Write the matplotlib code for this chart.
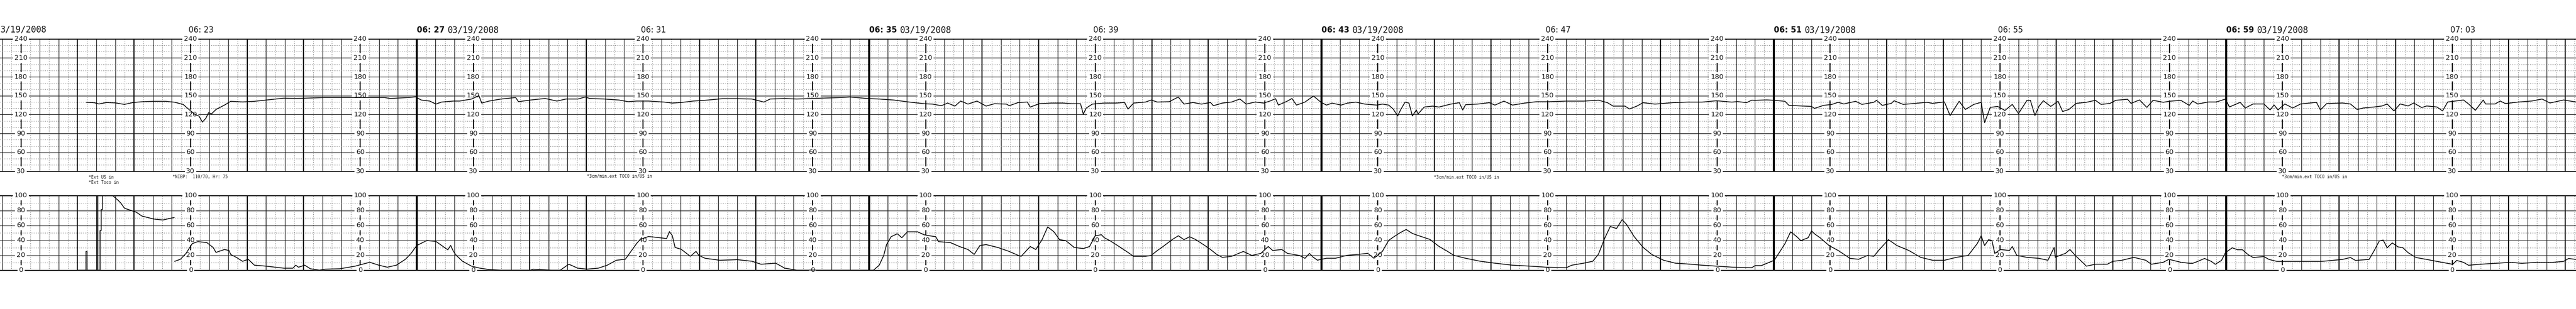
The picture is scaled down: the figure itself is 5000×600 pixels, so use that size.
import numpy as np
import matplotlib
matplotlib.use("Agg")
import matplotlib.pyplot as plt

# ---------------- data (time = minutes after 06:00) ----------------
VIEW_START = 19.63
VIEW_END = 65.19
PAGE_STARTS = [19, 27, 35, 43, 51, 59]
PAGE_TIME_LABELS = ["06: 19", "06: 27", "06: 35", "06: 43", "06: 51", "06: 59"]
MID_TIMES = [23, 31, 39, 47, 55, 63]
MID_TIME_LABELS = ["06: 23", "06: 31", "06: 39", "06: 47", "06: 55", "07: 03"]
DATE_LABEL = "03/19/2008"
EDGE_DATE_LABEL = "3/19/2008"   # the part of the first page's date visible at the left edge
SCALE_COLUMNS = [20, 23, 26, 28, 31, 34, 36, 39, 42, 44, 47, 50, 52, 55, 58, 60, 63]
FHR_TICKS = [240, 210, 180, 150, 120, 90, 60, 30]
TOCO_TICKS = [100, 80, 60, 40, 20, 0]

ANNOT_TIMES = [21.20, 21.20, 22.68, 30.01, 44.99, 59.99]
ANNOT_TEXTS = ["*Ext US in", "*Ext Toco in", "*NIBP:  110/70, Hr: 75",
               "*3cm/min.ext TOCO in/US in", "*3cm/min.ext TOCO in/US in",
               "*3cm/min.ext TOCO in/US in"]

FHR = np.array([
    (21.16, 139.4), (21.30, 138.7), (21.38, 136.8), (21.51, 139), (21.67, 138.5), (21.83, 136.1),
    (21.98, 139), (22.14, 140.3), (22.35, 141), (22.56, 141), (22.72, 139.5), (22.87, 136),
    (22.95, 129.7), (23.08, 120), (23.15, 117.5), (23.21, 108), (23.27, 114), (23.32, 123),
    (23.37, 121), (23.45, 128), (23.61, 135.5), (23.71, 141), (23.92, 140), (24.13, 141),
    (24.34, 143), (24.65, 146), (24.86, 145.5), (25.38, 147), (25.91, 147), (26.43, 147),
    (26.53, 145.5), (26.85, 147), (26.98, 148),
    (27.08, 143), (27.23, 141.4), (27.34, 136.6), (27.44, 139.8), (27.65, 141.4), (27.76, 141.4),
    (27.97, 144.6), (28.10, 150), (28.15, 138.2), (28.28, 141.4), (28.49, 144.6), (28.75, 147),
    (28.80, 140.4), (29.01, 143), (29.27, 145.5), (29.48, 141.4), (29.64, 144.6), (29.85, 144.6),
    (29.98, 147.8), (30.06, 145.5), (30.32, 144.6), (30.58, 143), (30.74, 140.4), (30.89, 141.4),
    (31.10, 141.4), (31.37, 139.8), (31.52, 138.2), (31.68, 139.1), (31.89, 141.4), (32.15, 143),
    (32.41, 145.2), (32.67, 145.2), (32.93, 144.6), (33.14, 139.8), (33.25, 144.6), (33.51, 145.5),
    (33.72, 144.6), (33.98, 145.5), (34.24, 146.2), (34.45, 146.8), (34.66, 147.8), (34.87, 146.2),
    (34.97, 145.5),
    (35.18, 144.6), (35.44, 143), (35.71, 139.8), (35.97, 137.2), (36.12, 136.6), (36.28, 134),
    (36.39, 138.2), (36.52, 133.4), (36.62, 141.4), (36.75, 136.6), (36.91, 141.4), (37.07, 133.4),
    (37.22, 137.2), (37.43, 136.6), (37.48, 134), (37.64, 139.1), (37.80, 139.8), (37.85, 131.8),
    (38.01, 137.2), (38.22, 138.2), (38.43, 138.2), (38.58, 137.2), (38.74, 137.2), (38.79, 120.6),
    (38.84, 130.2), (38.95, 136.6), (39.16, 138.2), (39.37, 138.2), (39.52, 139.1), (39.58, 128.6),
    (39.68, 138.2), (39.89, 139.8), (39.99, 143), (40.10, 139.8), (40.31, 140.4), (40.47, 147.8),
    (40.57, 136.6), (40.73, 139.1), (40.88, 136.6), (41.04, 139.1), (41.09, 134), (41.25, 138.2),
    (41.41, 139.8), (41.56, 144.6), (41.67, 136.6), (41.83, 139.8), (41.98, 138.2), (42.09, 141.4),
    (42.19, 145.2), (42.24, 135), (42.40, 141.4), (42.48, 145.5), (42.56, 135), (42.71, 139.8),
    (42.86, 149.4),
    (42.99, 139.7), (43.09, 135), (43.19, 138.1), (43.35, 135), (43.46, 138.1), (43.61, 139.7),
    (43.77, 136.6), (43.98, 135), (44.08, 136.6), (44.19, 135), (44.27, 128.8), (44.35, 117.8),
    (44.40, 127.2), (44.48, 139.7), (44.55, 138.1), (44.61, 117.8), (44.68, 127.2), (44.71, 121),
    (44.82, 131.9), (44.97, 133.4), (45.08, 131.9), (45.29, 136.6), (45.44, 138.8), (45.50, 127.2),
    (45.55, 135.6), (45.76, 136.6), (45.97, 138.8), (46.07, 135), (46.23, 141.3), (46.38, 135),
    (46.59, 138.1), (46.80, 140.3), (47.01, 140.3), (47.33, 141.3), (47.64, 141.3), (47.90, 142.8),
    (48.06, 138.8), (48.16, 133.4), (48.37, 133.4), (48.45, 128.8), (48.58, 133.4), (48.69, 138.8),
    (48.90, 136.6), (49.21, 138.8), (49.47, 139.7), (49.73, 139.7), (49.99, 141.9), (50.26, 139.7),
    (50.36, 140.6), (50.52, 138.8), (50.61, 142.8),
    (50.67, 142.6), (50.88, 143.2), (51.01, 142.6), (51.20, 141), (51.27, 134.5), (51.51, 133.5),
    (51.67, 132.9), (51.72, 129.7), (51.88, 134.5), (52.03, 136.1), (52.14, 139.4), (52.24, 136.8),
    (52.45, 141), (52.56, 136.1), (52.77, 139.4), (52.82, 142.6), (52.92, 134.5), (53.08, 137.7),
    (53.13, 141.9), (53.29, 136.1), (53.50, 137.7), (53.71, 139.4), (53.81, 137.7), (54.02, 140),
    (54.12, 118.4), (54.28, 141), (54.39, 128), (54.54, 136.1), (54.67, 139.4), (54.73, 107.1),
    (54.83, 131.3), (54.96, 132.9), (55.09, 126.5), (55.22, 136.1), (55.33, 121.6), (55.48, 142.6),
    (55.54, 142.6), (55.62, 118.4), (55.69, 132.9), (55.77, 141.9), (55.90, 132.9), (56.03, 141),
    (56.11, 124.8), (56.22, 128), (56.35, 137.7), (56.53, 139.4), (56.69, 142.6), (56.79, 136.1),
    (56.95, 137.7), (57.05, 142.6), (57.26, 144.2), (57.32, 137.7), (57.47, 143.2), (57.60, 131.3),
    (57.71, 142.6), (57.89, 139.4), (57.99, 141), (58.20, 142.6), (58.35, 134.5),
    (58.41, 141.5), (58.50, 136.8), (58.69, 139.9), (58.83, 139.9), (58.99, 144.6), (59.06, 132),
    (59.25, 139.3), (59.34, 130.4), (59.48, 136.8), (59.67, 136.8), (59.78, 127.3), (59.85, 135.2),
    (59.92, 127.3), (60.04, 136.8), (60.18, 130.4), (60.32, 136.8), (60.60, 139.3), (60.67, 127.3),
    (60.78, 137.4), (61.06, 138.3), (61.20, 136.8), (61.32, 127.9), (61.43, 130.4), (61.62, 132),
    (61.76, 133.6), (61.85, 136.8), (61.97, 125.7), (62.08, 136.8), (62.22, 133.6), (62.32, 138.3),
    (62.46, 131.1), (62.55, 133.6), (62.73, 132), (62.83, 125.7), (62.92, 139.9), (63.06, 141.5),
    (63.20, 143.1), (63.29, 136.8), (63.41, 126.7), (63.55, 143.1), (63.59, 136.8), (63.76, 136.8),
    (63.85, 141.5), (63.94, 137.4), (64.18, 139.9), (64.41, 141.5), (64.59, 144.6), (64.73, 138.3),
    (64.97, 143.1), (65.19, 139.9),
])

TOCO = np.array([
    (21.00, 0), (21.15, 0), (21.15, 25), (21.17, 25), (21.17, 0), (21.34, 0), (21.34, 105),
    (21.36, 105), (21.36, 0), (21.40, 0), (21.40, 53), (21.42, 53), (21.42, 81), (21.44, 81),
    (21.44, 105), (21.60, 105), (21.62, 100), (21.72, 93.4), (21.77, 89.5), (21.83, 83),
    (21.88, 81.6), (22.04, 77.6), (22.14, 72.4), (22.35, 68.4), (22.51, 67.1), (22.66, 69.7),
    (22.71, 70.3), (22.715, np.nan),
    (22.72, 11.8), (22.82, 14.5), (22.92, 22.4), (23.03, 35.5), (23.13, 38.2), (23.29, 36.8),
    (23.40, 30.3), (23.45, 23.7), (23.60, 27.6), (23.68, 26.3), (23.71, 21), (23.81, 17.1),
    (23.92, 11.8), (24.02, 14.5), (24.13, 6.6), (24.34, 5.3), (24.65, 2.6), (24.81, 2.6),
    (24.86, 6.6), (24.91, 3.9), (25.02, 6.6), (25.12, 1.8), (25.28, 0), (25.38, 1.3),
    (25.64, 1.8), (25.91, 5.3), (26.17, 10.5), (26.33, 6.6), (26.48, 3.9), (26.64, 6.6),
    (26.80, 14.5), (26.90, 22.4), (27.00, 32.9),
    (27.18, 39.7), (27.34, 38.4), (27.44, 33.1), (27.55, 27.2), (27.60, 33.1), (27.65, 25.1),
    (27.70, 19.8), (27.81, 11.9), (27.97, 5.3), (28.12, 2.6), (28.28, 0.8), (28.49, 0),
    (29.01, 0), (29.06, 1.3), (29.38, 0), (29.54, 0), (29.69, 7.9), (29.85, 2.6), (30.01, 1.3),
    (30.21, 2.6), (30.37, 6.6), (30.53, 13.2), (30.69, 14.6), (30.79, 25.1), (30.89, 35.7),
    (30.95, 41), (31.10, 45), (31.26, 43.7), (31.42, 42.3), (31.47, 51.6), (31.52, 46.3),
    (31.57, 30.4), (31.68, 27.8), (31.84, 18.5), (31.94, 25.1), (31.99, 19.8), (32.10, 15.9),
    (32.36, 13.2), (32.67, 14), (32.93, 11.9), (33.09, 7.9), (33.35, 9.3), (33.51, 2.6),
    (33.72, 0), (34.24, 0), (35.00, 0),
    (35.08, 0), (35.18, 6.6), (35.26, 19.7), (35.31, 34.2), (35.39, 44.7), (35.50, 48.7),
    (35.58, 43.4), (35.68, 51.3), (35.86, 51.3), (35.97, 47.4), (36.07, 46), (36.18, 44.7),
    (36.23, 38.2), (36.44, 36.8), (36.60, 31.6), (36.75, 27.6), (36.86, 21), (36.96, 32.9),
    (37.07, 34.2), (37.28, 30.3), (37.48, 25), (37.64, 19.7), (37.69, 18.4), (37.85, 31.6),
    (37.95, 27.6), (38.06, 40.8), (38.16, 57.9), (38.27, 51.3), (38.37, 40.8), (38.48, 39.5),
    (38.63, 30.3), (38.79, 28.9), (38.90, 31.6), (39.00, 46), (39.11, 47.4), (39.16, 43.4),
    (39.26, 39.5), (39.37, 34.2), (39.58, 23.7), (39.68, 18.4), (39.89, 18.4), (39.99, 19.7),
    (40.10, 26.3), (40.20, 31.6), (40.36, 40.8), (40.47, 46), (40.57, 40.8), (40.67, 44.7),
    (40.78, 40.8), (40.94, 32.9), (41.04, 27.6), (41.15, 21), (41.25, 17.1), (41.41, 18.4),
    (41.62, 25), (41.77, 19.7), (41.93, 22.4), (42.06, 31.6), (42.14, 26.3), (42.30, 27.6),
    (42.40, 22.4), (42.61, 19.7), (42.71, 15.8), (42.79, 22.4), (42.86, 17.1),
    (42.93, 13.3), (43.09, 15.9), (43.25, 15.9), (43.46, 19.9), (43.67, 21.2), (43.82, 22.5),
    (43.93, 15.9), (44.08, 25.2), (44.19, 39.8), (44.29, 45.1), (44.40, 50.4), (44.50, 54.4),
    (44.61, 49.1), (44.71, 46.4), (44.92, 41.1), (45.08, 31.8), (45.23, 25.2), (45.34, 19.9),
    (45.55, 15.9), (45.81, 11.9), (46.07, 9.3), (46.38, 6.6), (46.70, 5.3), (46.96, 4),
    (47.33, 3.2), (47.43, 6.6), (47.64, 9.3), (47.80, 11.9), (47.90, 21.2), (48.01, 42.4),
    (48.11, 58.4), (48.22, 55.7), (48.32, 67.6), (48.40, 61), (48.53, 45.1), (48.69, 30.5),
    (48.84, 21.2), (49.05, 13.3), (49.26, 9.3), (49.52, 8), (49.73, 6.6), (49.99, 5.3),
    (50.26, 4), (50.61, 3.2),
    (50.67, 6), (50.78, 6), (51.01, 13.2), (51.09, 22.4), (51.20, 35.5), (51.30, 51.3),
    (51.41, 44.7), (51.48, 39.5), (51.61, 43.4), (51.67, 52.6), (51.72, 48.7), (51.82, 43.4),
    (51.98, 32.9), (52.14, 26.3), (52.35, 15.8), (52.50, 14.5), (52.66, 19.7), (52.77, 18.4),
    (52.87, 27.6), (53.03, 40.8), (53.18, 32.9), (53.39, 26.3), (53.60, 17.1), (53.81, 13.2),
    (54.02, 13.2), (54.23, 17.1), (54.44, 19.7), (54.60, 35.5), (54.67, 46), (54.73, 32.9),
    (54.80, 40.8), (54.86, 39.5), (54.91, 22.4), (55.01, 27.6), (55.17, 26.3), (55.22, 31.6),
    (55.30, 19.7), (55.48, 17.1), (55.69, 15.8), (55.85, 13.2), (55.96, 30.3), (55.98, 17.1),
    (56.06, 19.7), (56.16, 22.4), (56.24, 27.6), (56.35, 18.4), (56.48, 9.2), (56.53, 5.3),
    (56.69, 7.9), (56.90, 7.9), (57.00, 11.8), (57.16, 13.2), (57.37, 17.1), (57.58, 13.2),
    (57.68, 7.9), (57.89, 10.5), (57.99, 14.5), (58.20, 10.5), (58.35, 9.2),
    (58.41, 9.1), (58.50, 11.7), (58.62, 15.6), (58.74, 11.7), (58.81, 7.8), (58.92, 13),
    (58.99, 23.4), (59.11, 29.9), (59.20, 27.3), (59.29, 27.3), (59.39, 20.8), (59.48, 16.9),
    (59.67, 18.2), (59.76, 14.3), (59.90, 11.7), (60.09, 11.7), (60.32, 11.7), (60.69, 11.7),
    (60.88, 13), (61.06, 14.3), (61.20, 16.9), (61.29, 13), (61.53, 14.3), (61.62, 26),
    (61.71, 39), (61.78, 40.3), (61.85, 29.9), (61.94, 36.4), (62.04, 31.2), (62.13, 29.9),
    (62.22, 23.4), (62.36, 16.9), (62.55, 14.3), (62.73, 11.7), (62.92, 9.1), (63.01, 7.8),
    (63.08, 13), (63.20, 10.4), (63.29, 6.5), (63.48, 7.8), (63.76, 9.1), (64.04, 10.4),
    (64.23, 9.1), (64.50, 10.4), (64.78, 10.4), (64.97, 11.7), (65.06, 15.6), (65.19, 14.3),
])

# ---------------- drawing ----------------
INK = "#111111"
DOT = "#555555"

fig = plt.figure(figsize=(50, 6), dpi=100)
fig.patch.set_facecolor("white")
ax_fhr = fig.add_axes([0, 0.4458, 1, 0.4282])
ax_toco = fig.add_axes([0, 0.1258, 1, 0.2417])


def paper(ax, ylo, yhi, major, minor):
    ax.set_facecolor("white")
    ax.set_xticks(np.arange(19, 66.01, 1 / 3))
    ax.set_xticks(np.arange(19, 66.01, 1 / 6), minor=True)
    ax.set_yticks(np.arange(ylo, yhi + 0.1, major))
    ax.set_yticks(np.arange(ylo, yhi + 0.1, minor), minor=True)
    ax.set_axisbelow(True)
    ax.grid(which="minor", color=DOT, lw=0.7, ls=(0, (1, 2.6)))
    ax.grid(which="major", color=INK, lw=0.85)
    ax.tick_params(which="both", length=0, labelbottom=False, labelleft=False)
    for s in ("left", "right"):
        ax.spines[s].set_visible(False)
    for s in ("top", "bottom"):
        ax.spines[s].set_linewidth(1.3)
        ax.spines[s].set_color(INK)
    minutes = np.arange(20, 66)
    ax.vlines(minutes, ylo, yhi, colors=INK, lw=1.5, zorder=1)
    ax.vlines(PAGE_STARTS[1:], ylo, yhi, colors="black", lw=2.8, zorder=1.2)
    # limits last: setting ticks may widen the view
    ax.set_xlim(VIEW_START, VIEW_END)
    ax.set_ylim(ylo, yhi)


paper(ax_fhr, 30, 240, 30, 10)
paper(ax_toco, 0, 100, 20, 10)

# scale columns
for c in SCALE_COLUMNS:
    for v in FHR_TICKS:
        ax_fhr.text(c, v, str(v), ha="center", va="center", fontsize=9.5,
                    family="DejaVu Sans", color=INK, zorder=3,
                    bbox=dict(boxstyle="square,pad=0.22", fc="white", ec="none"))
    for v in TOCO_TICKS:
        ax_toco.text(c, v, str(v), ha="center", va="center", fontsize=9.5,
                     family="DejaVu Sans", color=INK, zorder=3,
                     bbox=dict(boxstyle="square,pad=0.22", fc="white", ec="none"))

# traces
ax_fhr.plot(FHR[:, 0], FHR[:, 1], color="black", lw=1.1, zorder=4)
ax_toco.plot(TOCO[:, 0], TOCO[:, 1], color="black", lw=1.1, zorder=4)

# time labels above the strip
label_y = 1.0685
xt = ax_fhr.get_xaxis_transform()
for p, lab in zip(PAGE_STARTS, PAGE_TIME_LABELS):
    if p < VIEW_START:
        # page started before the visible window: only the tail of its date shows
        fig.text(0.0002, 1 - 58 / 600, EDGE_DATE_LABEL, ha="left", va="center",
                 fontsize=12, family="DejaVu Sans Mono", color=INK)
        continue
    ax_fhr.text(p + 0.005, label_y, lab, transform=xt,
                ha="left", va="center", fontsize=11, fontweight="bold",
                family="DejaVu Sans", color=INK)
    ax_fhr.annotate(DATE_LABEL, xy=(p + 0.005, label_y), xycoords=xt,
                    xytext=(43, 0), textcoords="offset points",
                    ha="left", va="center", fontsize=12,
                    family="DejaVu Sans Mono", color=INK, annotation_clip=False)
for m, lab in zip(MID_TIMES, MID_TIME_LABELS):
    ax_fhr.text(m - 0.035, label_y, lab, transform=xt,
                ha="left", va="center", fontsize=11, family="DejaVu Sans", color=INK)

# event annotations under the heart-rate panel
annot_y = [-0.045, -0.084, -0.041, -0.037, -0.045, -0.041]
for t, txt, yy in zip(ANNOT_TIMES, ANNOT_TEXTS, annot_y):
    ax_fhr.text(t, yy, txt, transform=xt,
                ha="left", va="center", fontsize=5.8,
                family="DejaVu Sans Mono", color=INK)

fig.savefig("out.png", dpi=100, facecolor="white")
